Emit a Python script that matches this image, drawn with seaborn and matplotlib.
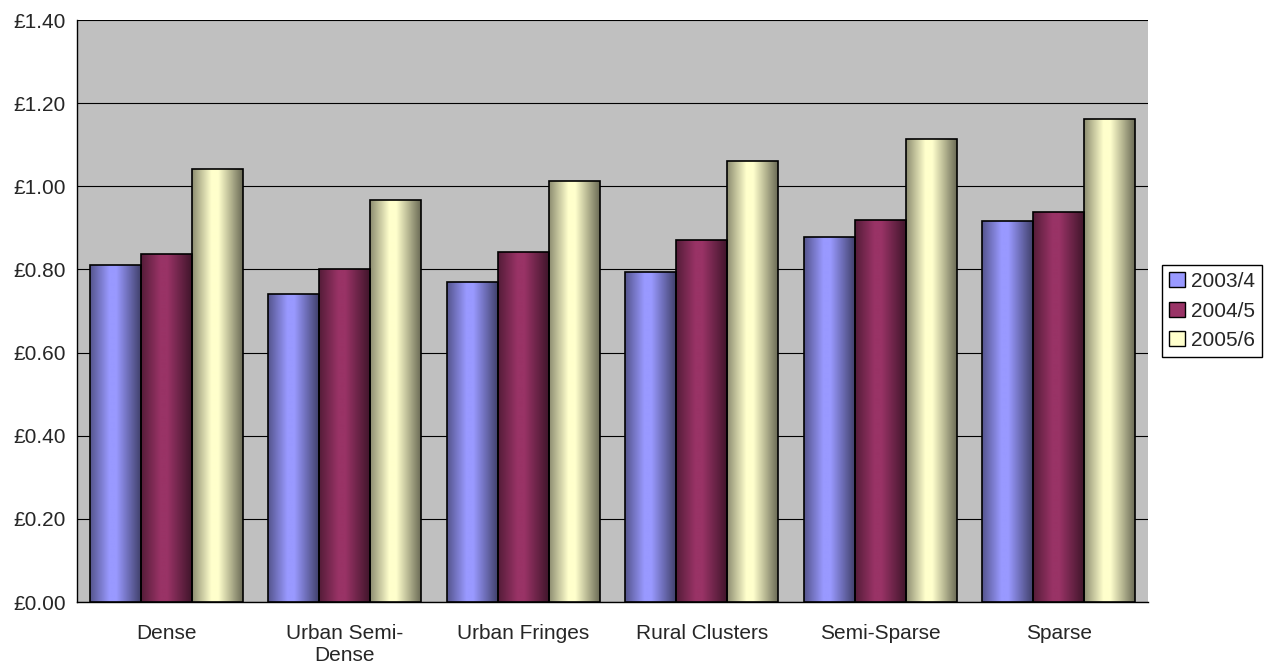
import numpy as np
import pandas as pd
import matplotlib
matplotlib.use('Agg')
import matplotlib.pyplot as plt
import seaborn as sns
from matplotlib.ticker import FuncFormatter, FixedLocator

# Chart data
areas = ['Dense', 'Urban Semi-\nDense', 'Urban Fringes', 'Rural Clusters', 'Semi-Sparse', 'Sparse']
years = ['2003/4', '2004/5', '2005/6']
v2003 = [0.811, 0.741, 0.770, 0.794, 0.878, 0.917]
v2004 = [0.837, 0.801, 0.842, 0.871, 0.919, 0.938]
v2005 = [1.042, 0.967, 1.013, 1.061, 1.114, 1.162]
colors = ['#9999FF', '#993366', '#FFFFCC']

df = pd.DataFrame({
    'area': areas * 3,
    'year': [years[0]] * 6 + [years[1]] * 6 + [years[2]] * 6,
    'value': v2003 + v2004 + v2005,
})

sns.set_style('white')
plt.rcParams['font.family'] = ['Liberation Sans', 'DejaVu Sans']

fig = plt.figure(figsize=(12.65, 6.69), dpi=100)
ax = fig.add_axes([0.0609, 0.1001, 0.8466, 0.8700])
ax.set_facecolor('#C0C0C0')

sns.barplot(data=df, x='area', y='value', hue='year', palette=colors,
            width=0.857, saturation=1, edgecolor='black', linewidth=1.2,
            ax=ax, zorder=3)

# cylinder-like horizontal shading on each bar
tpos = np.linspace(0, 1, 200)
shade = np.interp(tpos, [0, 0.38, 0.52, 1], [0.55, 1.0, 1.0, 0.42])
for cont, col in zip(ax.containers, colors):
    base = np.array(matplotlib.colors.to_rgb(col))
    grad = (shade[:, None] * base[None, :])[None, :, :]
    for bar in cont:
        x0, y0 = bar.get_x(), bar.get_y()
        w, h = bar.get_width(), bar.get_height()
        im = ax.imshow(grad, extent=[x0, x0 + w, y0, y0 + h], aspect='auto',
                       origin='lower', zorder=3.5, interpolation='bilinear')
        im.set_clip_path(bar)
        bar.set_facecolor('none')
        bar.set_zorder(4)

ax.set_xlim(-0.5, 5.5)
ax.set_ylim(0, 1.4)
ax.set_yticks(np.arange(0, 1.41, 0.2))
ax.yaxis.set_major_formatter(FuncFormatter(lambda v, p: '£%.2f' % v))
ax.grid(axis='y', color='black', linewidth=0.8, zorder=1)
ax.set_axisbelow(True)

ax.xaxis.set_minor_locator(FixedLocator(np.arange(-0.5, 6, 1)))
ax.tick_params(axis='x', which='major', length=0, pad=16, labelsize=15)
ax.tick_params(axis='x', which='minor', length=5, width=1, color='black', direction='out')
ax.tick_params(axis='y', length=5, width=1, color='black', direction='out', labelsize=15, pad=3)
for lab in ax.get_xticklabels():
    lab.set_linespacing(1.15)
ax.set_xlabel('')
ax.set_ylabel('')

for s in ['top', 'right']:
    ax.spines[s].set_visible(False)
for s in ['left', 'bottom']:
    ax.spines[s].set_color('black')
    ax.spines[s].set_linewidth(1)

leg = ax.legend(loc='center left', bbox_to_anchor=(1.013, 0.5), fancybox=False,
                edgecolor='black', framealpha=1, fontsize=15, handlelength=0.75,
                handleheight=0.75, handletextpad=0.3, borderpad=0.35, labelspacing=0.5,
                borderaxespad=0)
leg.get_frame().set_linewidth(1)
for h in leg.legend_handles:
    h.set_edgecolor('black')
    h.set_linewidth(1)

fig.savefig('out.png', dpi=100)
